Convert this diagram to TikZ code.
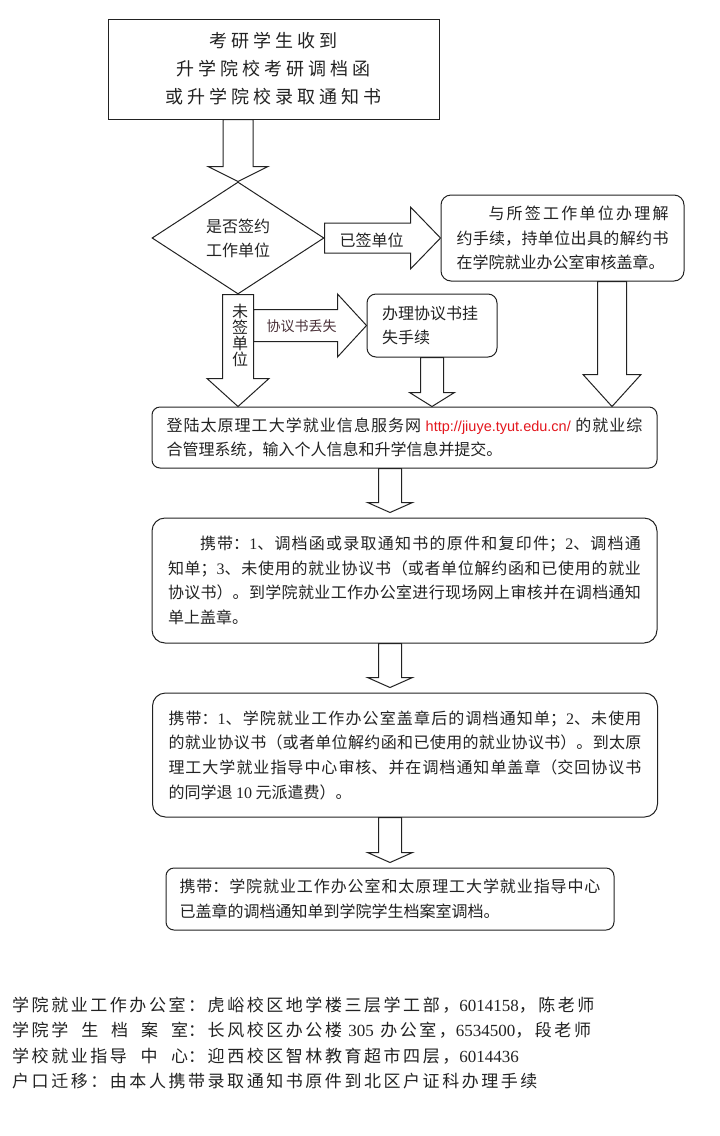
\documentclass[tikz,border=0pt]{standalone}
\usepackage{fontspec}
\setmainfont{Noto Sans CJK SC}
\newfontfamily\urlfont{Liberation Sans}
\newfontfamily\digitfont{Liberation Serif}
\newfontfamily\spacedfont[LetterSpace=22]{Noto Sans CJK SC}
\newfontfamily\notefont[LetterSpace=15]{Noto Sans CJK SC}
\newcommand{\dg}[1]{{\digitfont #1}}
\XeTeXlinebreaklocale "zh"
\XeTeXlinebreakskip=0pt plus 2pt
\usepackage{tikz}
\usetikzlibrary{shapes.geometric, calc}
\definecolor{ink}{HTML}{222222}
\definecolor{urlred}{HTML}{E3161D}
\definecolor{lostred}{HTML}{4A3038}
\tikzset{
  startbox/.style={rectangle, draw=ink, line width=1pt, text=ink,
    font=\spacedfont\fontsize{18}{28}\selectfont, minimum width=331pt, minimum height=100pt,
    align=center, inner sep=0pt},
  dec/.style={diamond, aspect=1.54, draw=ink, line width=1pt, text=ink,
    font=\fontsize{16}{24}\selectfont, minimum width=172pt, minimum height=112pt,
    align=center, inner sep=0pt},
  proc/.style={rectangle, rounded corners=9pt, draw=ink, line width=1pt, text=ink,
    font=\fontsize{16}{24.7}\selectfont, align=justify, inner sep=0pt},
  proc/big/.style={proc, rounded corners=13pt, minimum width=505pt, text width=473pt},
  fat/.style={draw=ink, line width=1pt, line join=miter},
  lb/.style={text=ink, font=\fontsize{16}{16}\selectfont, inner sep=0pt, align=center},
  notes/.style={text=ink, font=\notefont\fontsize{17}{25.3}\selectfont, inner sep=0pt,
    align=left, anchor=west},
}
% #2 from, #3 to, #4 shaft half width, #5 head half width, #6 head length
\newcommand{\fatarrow}[6][]{%
  \path (#2) coordinate (fa-a) (#3) coordinate (fa-b);
  \path ($(fa-b)!#6!(fa-a)$) coordinate (fa-h);
  \draw[fat,#1] ($(fa-a)!#4!90:(fa-b)$) -- ($(fa-h)!#4!-90:(fa-a)$)
    -- ($(fa-h)!#5!-90:(fa-a)$) -- (fa-b) -- ($(fa-h)!#5!90:(fa-a)$)
    -- ($(fa-h)!#4!90:(fa-a)$) -- ($(fa-a)!#4!-90:(fa-b)$) -- cycle;
}

\begin{document}
\begin{tikzpicture}[x=1pt, y=-1pt]
  \useasboundingbox (0,0) rectangle (720,1136);

  \node[startbox] (start) at (273.5,69) {考研学生收到\\升学院校考研调档函\\或升学院校录取通知书};
  \node[dec] (dec) at (238,238) {是否签约\\工作单位};
  \node[proc, rounded corners=10pt, minimum width=243pt, minimum height=86pt, text width=212pt]
    (agree) at (562.5,238)
    {\hspace*{2em}与所签工作单位办理解\linebreak 约手续，持单位出具的解约书\linebreak 在学院就业办公室审核盖章。};
  \node[proc, align=left, minimum width=130pt, minimum height=63pt, text width=100pt]
    (lost) at (432,325.5) {办理协议书挂\\失手续};

  \node[proc, rounded corners=8pt, minimum width=505pt, minimum height=61pt, text width=476pt]
    (login) at (404.5,437.5)
    {登陆太原理工大学就业信息服务网 {\color{urlred}\urlfont\fontsize{14.5}{24.7}\selectfont\mbox{http://jiuye.tyut.edu.cn/}} 的就业综\linebreak 合管理系统，输入个人信息和升学信息并提交。};
  \node[proc/big, minimum height=125pt] (carry1) at (404.5,580.5)
    {\hspace*{2em}携带：\dg{1}、调档函或录取通知书的原件和复印件；\dg{2}、调档通\linebreak 知单；\dg{3}、未使用的就业协议书（或者单位解约函和已使用的就业\linebreak 协议书）。到学院就业工作办公室进行现场网上审核并在调档通知\linebreak 单上盖章。};
  \node[proc/big, minimum height=124pt] (carry2) at (405,755)
    {携带：\dg{1}、学院就业工作办公室盖章后的调档通知单；\dg{2}、未使用\linebreak 的就业协议书（或者单位解约函和已使用的就业协议书）。到太原\linebreak 理工大学就业指导中心审核、并在调档通知单盖章（交回协议书\linebreak 的同学退 \dg{10} 元派遣费）。};
  \node[proc, rounded corners=8pt, minimum width=448pt, minimum height=62pt, text width=421pt]
    (carry3) at (390,899)
    {携带：学院就业工作办公室和太原理工大学就业指导中心\linebreak 已盖章的调档通知单到学院学生档案室调档。};

  % block arrows
  \fatarrow{start.south -| dec.north}{dec.north}{15pt}{30pt}{15pt}
  \fatarrow{dec.east}{agree.west}{15pt}{31pt}{30pt}
  \fatarrow{dec.south}{dec.south |- login.north}{15.5pt}{31pt}{28pt}
  \coordinate (lost-from) at ($(dec.south)+(15.5,0)$);
  \fatarrow{lost-from |- lost.west}{lost.west}{16pt}{31.5pt}{29pt}
  \fatarrow{lost.south}{lost.south |- login.north}{11.5pt}{22.5pt}{14pt}
  \coordinate (agree-out) at ($(agree.south)+(49.5,0)$);
  \fatarrow{agree-out}{agree-out |- login.north}{14.5pt}{29pt}{32pt}
  \fatarrow{login.south -| carry3.north}{$(carry1.north -| carry3.north)+(0,-5)$}{11.5pt}{22.5pt}{10pt}
  \fatarrow{carry1.south -| carry3.north}{$(carry2.north -| carry3.north)+(0,-5)$}{11.5pt}{22.5pt}{10pt}
  \fatarrow{carry2.south -| carry3.north}{$(carry3.north)+(0,-5)$}{11.5pt}{22.5pt}{10pt}

  % arrow labels
  \node[lb] (signed) at (371.5,240) {已签单位};
  \node[lb] (unsigned) at (240,335) {未\\签\\单\\位};
  \node[lb, text=lostred, font=\fontsize{14}{14}\selectfont] (lostlbl) at (301.5,326) {协议书丢失};

  % contacts
  \node[notes] (info) at (12,1043)
    {\makebox[176pt][l]{学院就业工作办公室}：虎峪校区地学楼三层学工部，\dg{6014158}，陈老师\\
     \makebox[176pt][l]{学院学\hfill 生\hfill 档\hfill 案\hfill 室}：长风校区办公楼 \dg{305} 办公室，\dg{6534500}，段老师\\
     \makebox[176pt][l]{学校就业指导\hfill 中\hfill 心}：迎西校区智林教育超市四层，\dg{6014436}\\
     户口迁移：由本人携带录取通知书原件到北区户证科办理手续};
\end{tikzpicture}
\end{document}
